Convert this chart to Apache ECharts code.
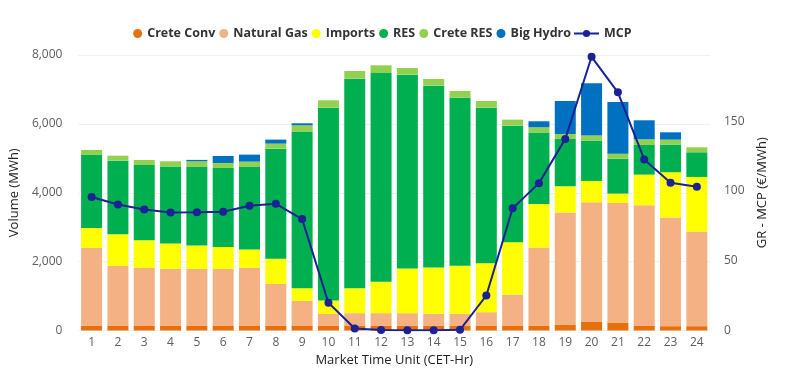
<!DOCTYPE html>
<html>
<head>
<meta charset="utf-8">
<script src="https://cdn.jsdelivr.net/npm/echarts@6/dist/echarts.min.js"></script>
<style>
  html, body {margin: 0; padding: 0; background: #fff;}
  #main {width: 788px; height: 376px;}
</style>
</head>
<body>
<div id="main"></div>
<script>
// hours (CET)
var hours = ["1","2","3","4","5","6","7","8","9","10","11","12","13","14","15","16","17","18","19","20","21","22","23","24"];

// volumes in MWh
var creteConv  = [145,145,145,145,145,145,145,145,145,145,145,145,145,145,145,145,145,145,174,261,232,145,126,126];
var naturalGas = [2254,1731,1673,1644,1644,1644,1673,1209,716,339,358,358,358,339,339,387,890,2264,3250,3463,3473,3492,3153,2747];
var imports    = [580,919,803,735,678,639,532,726,367,387,725,909,1296,1344,1393,1422,1528,1267,764,619,271,890,1316,1586];
var res        = [2119,2137,2186,2235,2292,2292,2409,3201,4547,5600,6085,6065,5630,5282,4884,4517,3386,2070,1374,1171,1015,861,803,716];
var creteRes   = [145,145,145,155,155,145,145,146,184,213,222,223,193,193,194,194,174,155,145,145,145,164,145,145];
var bigHydro   = [0,0,0,0,40,203,203,116,58,0,0,0,0,0,0,0,0,174,958,1518,1500,552,212,0];

// GR market clearing price, €/MWh
var mcp = [95.7,90.4,86.8,84.7,84.9,85.2,89.5,90.9,79.9,19.9,1.4,0.3,0.2,0.2,0.5,25.1,87.6,105.7,137.3,196.3,170.8,122.7,106,103.1];

var font = "'Open Sans', 'Noto Sans', sans-serif";
var chart = echarts.init(document.getElementById("main"), null, {renderer: "canvas"});

function bar(name, data, color) {
    return {
        name: name, type: "bar", stack: "vol", data: data,
        barWidth: 21, itemStyle: {color: color},
        emphasis: {disabled: true}
    };
}

var legendText = {fontFamily: font, fontSize: 12.5, fontWeight: "bold", color: "#333"};

var option = {
    animation: false,
    textStyle: {fontFamily: font},
    // two legends: dots for the bars, line+dot for MCP
    legend: [{
        top: 27, right: 217, padding: 0,
        itemWidth: 9, itemHeight: 9, itemGap: 4,
        icon: "circle",
        textStyle: legendText,
        data: ["Crete Conv", "Natural Gas", "Imports", "RES", "Crete RES", "Big Hydro"]
    }, {
        top: 27, left: 573, padding: 0,
        itemWidth: 25, itemHeight: 9,
        textStyle: legendText,
        data: ["MCP"]
    }],
    grid: {left: 69, right: 78, top: 55, bottom: 45.5},
    xAxis: {
        type: "category", data: hours,
        name: "Market Time Unit (CET-Hr)", nameLocation: "middle", nameGap: 23,
        nameTextStyle: {fontFamily: font, fontSize: 13, color: "#252423"},
        axisLine: {show: false}, axisTick: {show: false},
        axisLabel: {fontFamily: font, fontSize: 12, color: "#605E5C", margin: 6}
    },
    yAxis: [{
        type: "value", min: 0, max: 8000, interval: 2000,
        name: "Volume (MWh)", nameLocation: "middle", nameGap: 55,
        nameTextStyle: {fontFamily: font, fontSize: 13, color: "#252423"},
        axisLabel: {fontFamily: font, fontSize: 12, color: "#605E5C", margin: 16,
            formatter: function(v) {return v.toLocaleString("en-US")}},
        splitLine: {lineStyle: {color: "#f0f0f0"}}
    }, {
        type: "value", min: 0, max: 197.6, interval: 50,
        name: "GR - MCP (€/MWh)", nameLocation: "middle", nameGap: 45,
        nameTextStyle: {fontFamily: font, fontSize: 13, color: "#252423"},
        axisLabel: {fontFamily: font, fontSize: 12, color: "#605E5C", margin: 14, showMaxLabel: false},
        splitLine: {show: false}
    }],
    series: [
        bar("Crete Conv", creteConv, "#E8700C"),
        bar("Natural Gas", naturalGas, "#F4B183"),
        bar("Imports", imports, "#FFFF00"),
        bar("RES", res, "#00B050"),
        bar("Crete RES", creteRes, "#92D050"),
        bar("Big Hydro", bigHydro, "#0070C0"),
        {
            name: "MCP", type: "line", yAxisIndex: 1, data: mcp,
            symbol: "circle", symbolSize: 8,
            lineStyle: {color: "#1A2296", width: 2},
            itemStyle: {color: "#1A2296"},
            z: 5
        }
    ]
};
chart.setOption(option);
</script>
</body>
</html>
